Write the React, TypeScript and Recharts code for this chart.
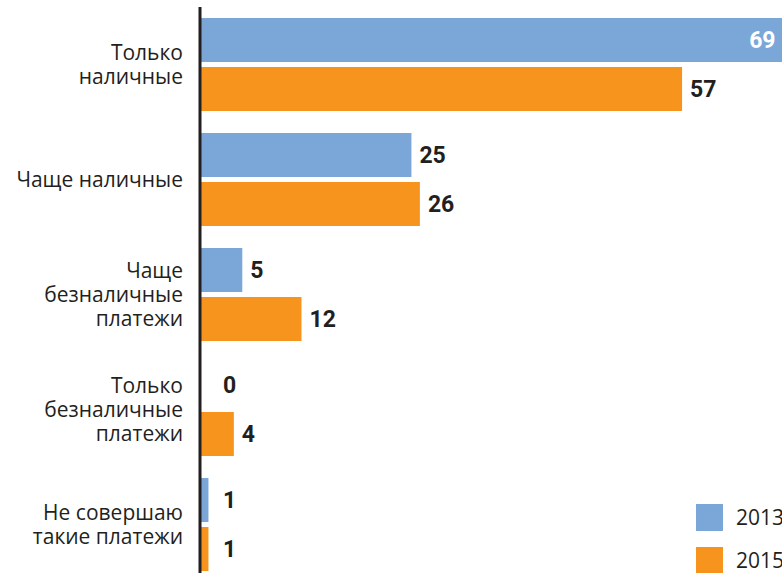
import React from 'react';
import { BarChart, Bar, XAxis, YAxis, Legend } from 'recharts';

const categories = [
  'Только|наличные',
  'Чаще наличные',
  'Чаще|безналичные|платежи',
  'Только|безналичные|платежи',
  'Не совершаю|такие платежи',
];
const values2013 = [69, 25, 5, 0, 1];
const values2015 = [57, 26, 12, 4, 1];
const seriesNames = ['2013', '2015'];
const colors = ['#7BA7D8', '#F7941E'];

const data = categories.map((c, i) => ({ cat: c, y2013: values2013[i], y2015: values2015[i] }));

const TEXT = '#231F20';

const CatTick = (props: any) => {
  const { y, payload } = props;
  const lines = String(payload.value).split('|');
  const lh = 24;
  const start = y - ((lines.length - 1) * lh) / 2;
  return (
    <g>
      {lines.map((l, i) => (
        <text key={i} x={183} y={start + i * lh} dy="0.35em" textAnchor="end" fill={TEXT} fontSize={21} fontFamily="'Open Sans', sans-serif">{l}</text>
      ))}
    </g>
  );
};

const maxAll = Math.max(...values2013, ...values2015);

const ValueLabel = (props: any) => {
  const { x, y, width, height, value } = props;
  const cy = y + height / 2;
  if (value === maxAll) {
    return (
      <text x={x + width - 8} y={cy} dy="0.36em" textAnchor="end" fill="#fff" fontSize={23} fontWeight={700} fontFamily="Roboto, sans-serif">{value}</text>
    );
  }
  const lx = Math.max(x + width + 8, x + 23);
  return (
    <text x={lx} y={cy} dy="0.36em" textAnchor="start" fill={TEXT} fontSize={23} fontWeight={700} fontFamily="Roboto, sans-serif">{value}</text>
  );
};

const LegendContent = () => (
  <div style={{ position: 'absolute', left: 696, top: 504 }}>
    {seriesNames.map((n, i) => (
      <div key={n} style={{ position: 'absolute', left: 0, top: i * 43, display: 'flex', alignItems: 'center', whiteSpace: 'nowrap' }}>
        <div style={{ width: 27, height: 27, background: colors[i] }} />
        <span style={{ marginLeft: 13, fontSize: 21, color: TEXT, fontFamily: "'Open Sans', sans-serif", lineHeight: '27px' }}>{n}</span>
      </div>
    ))}
  </div>
);

export default function App() {
  return (
    <div style={{ position: 'absolute', left: 0, top: 0, width: 782, height: 573, overflow: 'hidden', background: '#fff' }}>
      <BarChart
        width={800}
        height={590}
        data={data}
        layout="vertical"
        margin={{ top: 7, right: 8, bottom: 8, left: 0 }}
        barSize={44}
        barGap={5}
        barCategoryGap={11}
      >
        <XAxis type="number" domain={[0, 70]} hide />
        <YAxis
          type="category"
          dataKey="cat"
          width={200}
          tickLine={false}
          axisLine={{ stroke: TEXT, strokeWidth: 3 }}
          tick={<CatTick />}
          interval={0}
        />
        <Legend content={<LegendContent />} wrapperStyle={{ position: 'absolute', left: 0, top: 0, width: 0, height: 0 }} />
        <Bar dataKey="y2013" name={seriesNames[0]} fill={colors[0]} isAnimationActive={false} label={<ValueLabel />} minPointSize={0.001} />
        <Bar dataKey="y2015" name={seriesNames[1]} fill={colors[1]} isAnimationActive={false} label={<ValueLabel />} minPointSize={0.001} />
      </BarChart>
    </div>
  );
}
